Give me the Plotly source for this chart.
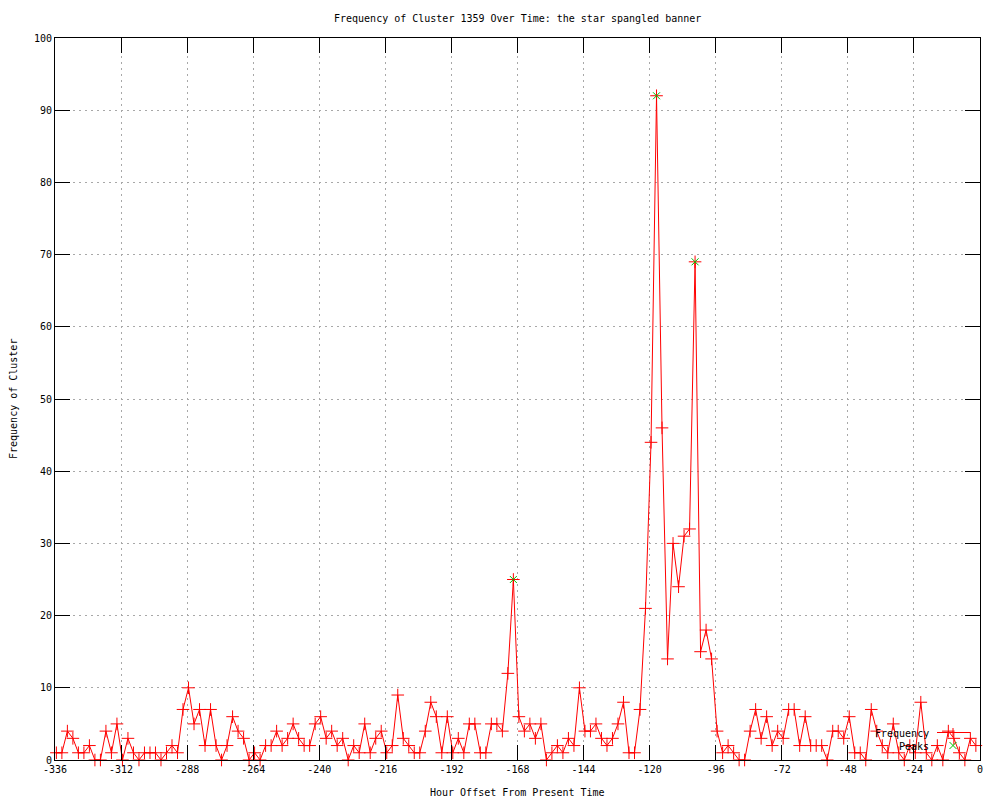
import plotly.graph_objects as go

TITLE = "Frequency of Cluster 1359 Over Time: the star spangled banner"
X_TITLE = "Hour Offset From Present Time"
Y_TITLE = "Frequency of Cluster"

# one sample every 2 hours, oldest first
START_HOUR = -335.5
STEP_HOURS = 2
frequency = [
    1, 1, 4, 3, 1, 1, 2, 0, 0, 4, 1, 5, 0, 3, 1, 0, 1, 1, 1, 0,
    1, 2, 1, 7, 10, 5, 7, 2, 7, 2, 0, 2, 6, 4, 3, 0, 1, 0, 2, 2,
    4, 2, 3, 5, 3, 2, 2, 5, 6, 3, 4, 2, 3, 0, 2, 1, 5, 1, 3, 4,
    1, 2, 9, 3, 2, 1, 1, 4, 8, 6, 1, 6, 1, 3, 1, 5, 5, 1, 1, 5,
    5, 4, 12, 25, 6, 4, 5, 3, 5, 0, 1, 2, 1, 3, 2, 10, 4, 4, 5, 3,
    2, 3, 5, 8, 1, 1, 7, 21, 44, 92, 46, 14, 30, 24, 31, 32, 69, 15, 18, 14,
    4, 1, 2, 1, 0, 0, 4, 7, 3, 6, 2, 4, 3, 7, 7, 2, 6, 2, 2, 2,
    0, 4, 4, 3, 6, 1, 1, 0, 7, 4, 2, 1, 5, 1, 0, 2, 1, 8, 1, 0,
    2, 0, 4, 3, 1, 0, 3, 2,
]
peak_index = [83, 109, 116]

x_ticks = [-336, -312, -288, -264, -240, -216, -192, -168, -144, -120, -96, -72, -48, -24, 0]
y_ticks = [0, 10, 20, 30, 40, 50, 60, 70, 80, 90, 100]

hours = [START_HOUR + STEP_HOURS * i for i in range(len(frequency))]
peak_hours = [hours[i] for i in peak_index]
peak_values = [frequency[i] for i in peak_index]

RED = "#ff0000"
GREEN = "#00c000"
FONT = "DejaVu Sans Mono"

# plot area in pixels
L, R, T, B = 55, 980, 38, 760


def px(x):
    return (x - L) / (R - L)


def py(y):
    return (B - y) / (B - T)


fig = go.Figure()
fig.add_trace(
    go.Scatter(
        x=hours,
        y=frequency,
        mode="lines+markers",
        line={"color": RED, "width": 1},
        marker={"symbol": "cross-thin", "size": 9, "color": RED, "line": {"color": RED, "width": 1}},
        name="Frequency",
        cliponaxis=False,
    )
)
fig.add_trace(
    go.Scatter(
        x=peak_hours,
        y=peak_values,
        mode="markers",
        marker={"symbol": "x-thin", "size": 7, "color": GREEN, "line": {"color": GREEN, "width": 1}},
        name="Peaks",
        cliponaxis=False,
    )
)

axis_style = dict(
    showline=True,
    linecolor="black",
    linewidth=1,
    mirror="allticks",
    ticks="inside",
    ticklen=15,
    tickcolor="black",
    showgrid=True,
    gridcolor="#a8a8a8",
    griddash="2px,4px",
    gridwidth=1,
    zeroline=False,
    tickfont={"family": FONT, "size": 10, "color": "black"},
)
fig.update_xaxes(range=[-336, 0], tickvals=x_ticks, ticktext=[str(v) for v in x_ticks], **axis_style)
fig.update_yaxes(range=[0, 100], tickvals=y_ticks, ticktext=[str(v) for v in y_ticks], **axis_style)

# gnuplot style key, text on the left of the sample
shapes = [
    dict(type="line", xref="paper", yref="paper", x0=px(937), x1=px(970), y0=py(732.5), y1=py(732.5),
         line={"color": RED, "width": 1}),
    dict(type="line", xref="paper", yref="paper", x0=px(948.5), x1=px(957.5), y0=py(732.5), y1=py(732.5),
         line={"color": RED, "width": 1}),
    dict(type="line", xref="paper", yref="paper", x0=px(953), x1=px(953), y0=py(728), y1=py(737),
         line={"color": RED, "width": 1}),
    dict(type="line", xref="paper", yref="paper", x0=px(949.5), x1=px(956.5), y0=py(742), y1=py(749),
         line={"color": GREEN, "width": 1}),
    dict(type="line", xref="paper", yref="paper", x0=px(949.5), x1=px(956.5), y0=py(749), y1=py(742),
         line={"color": GREEN, "width": 1}),
]

annotations = [
    dict(text="Frequency", x=px(931), y=py(733), xref="paper", yref="paper", xanchor="right",
         yanchor="middle", showarrow=False, font={"family": FONT, "size": 10, "color": "black"}),
    dict(text="Peaks", x=px(931), y=py(746), xref="paper", yref="paper", xanchor="right",
         yanchor="middle", showarrow=False, font={"family": FONT, "size": 10, "color": "black"}),
    dict(text=X_TITLE, x=0.5, y=py(792), xref="paper", yref="paper", xanchor="center",
         yanchor="middle", showarrow=False, font={"family": FONT, "size": 10, "color": "black"}),
    dict(text=Y_TITLE, x=px(13), y=0.5, xref="paper", yref="paper", xanchor="center",
         yanchor="middle", textangle=-90, showarrow=False, font={"family": FONT, "size": 10, "color": "black"}),
    dict(text=TITLE, x=0.5, y=py(18), xref="paper", yref="paper", xanchor="center",
         yanchor="middle", showarrow=False, font={"family": FONT, "size": 10, "color": "black"}),
]

fig.update_layout(
    width=1000,
    height=800,
    paper_bgcolor="white",
    plot_bgcolor="white",
    margin=dict(l=L, r=1000 - R, t=T, b=800 - B),
    showlegend=False,
    shapes=shapes,
    annotations=annotations,
    font={"family": FONT, "size": 10, "color": "black"},
)

fig.write_html("out.html", config={"displayModeBar": False})

# drop the default page margin so the figure sits at the window's corner
with open("out.html", encoding="utf-8") as f:
    page = f.read()
page = page.replace("<head>", "<head><style>html,body{margin:0;padding:0;overflow:hidden;}</style>", 1)
with open("out.html", "w", encoding="utf-8") as f:
    f.write(page)
